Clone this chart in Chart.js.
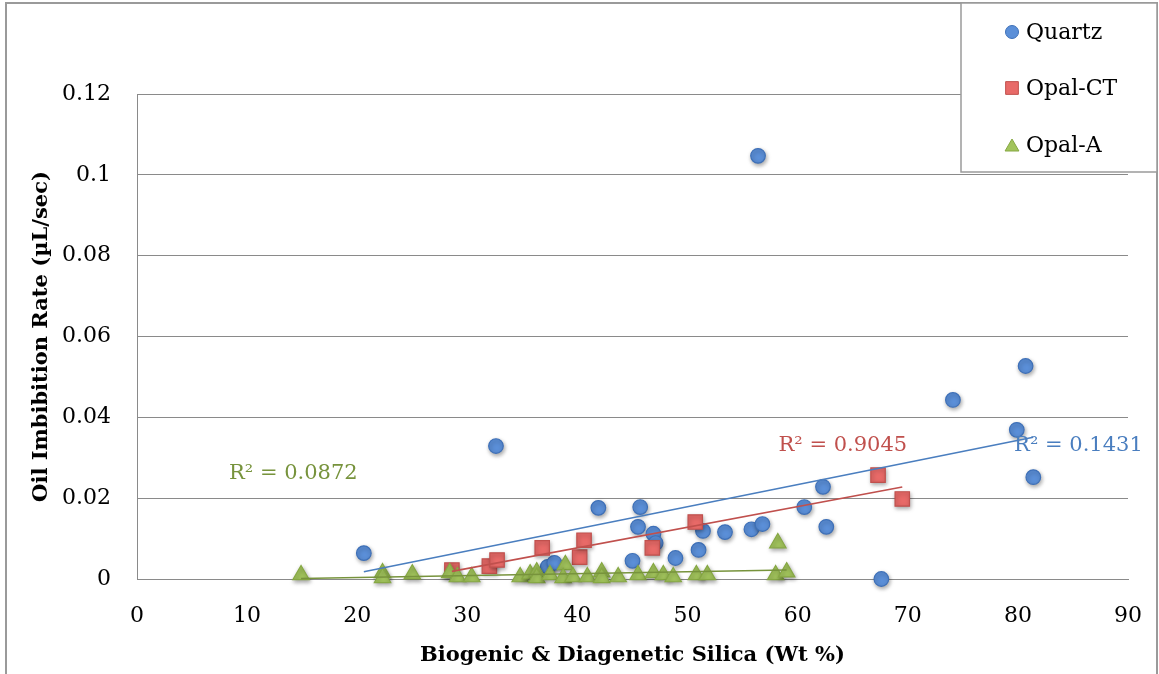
<!DOCTYPE html>
<html>
<head>
<meta charset="utf-8">
<script src="https://cdn.jsdelivr.net/npm/chart.js@4.4.1/dist/chart.umd.min.js"></script>
<style>
  html, body { margin: 0; padding: 0; background: #fff; }
</style>
</head>
<body>
<canvas id="chart" width="1159" height="674"></canvas>
<script>
/* ========= DATA ========= */
const quartzX = [20.6, 32.6, 37.3, 37.9, 41.9, 45.0, 45.5, 45.7, 46.9, 47.1, 48.9, 51.0, 51.4, 53.4, 55.8, 56.8, 56.4, 60.6, 62.3, 62.6, 67.6, 74.1, 79.9, 80.7, 81.4];
const quartzY = [0.0064, 0.0329, 0.0030, 0.0040, 0.0176, 0.0045, 0.0129, 0.0178, 0.0112, 0.0089, 0.0052, 0.0072, 0.0119, 0.0116, 0.0123, 0.0136, 0.1047, 0.0178, 0.0228, 0.0129, 0.0000, 0.0443, 0.0369, 0.0527, 0.0252];

const opalCtX = [28.6, 32.0, 32.7, 36.8, 40.2, 40.6, 46.8, 50.7, 67.3, 69.5];
const opalCtY = [0.0022, 0.0032, 0.0047, 0.0077, 0.0054, 0.0096, 0.0077, 0.0141, 0.0257, 0.0198];

const opalAX = [14.9, 22.3, 22.3, 25.0, 28.4, 29.1, 30.4, 34.8, 35.7, 36.3, 36.3, 37.5, 38.9, 38.7, 39.6, 40.9, 42.2, 42.2, 43.7, 45.5, 46.9, 47.8, 48.7, 50.8, 51.8, 58.2, 58.0, 59.0];
const opalAY = [0.0010, 0.0015, 0.0003, 0.0012, 0.0015, 0.0005, 0.0005, 0.0005, 0.0012, 0.0017, 0.0003, 0.0010, 0.0035, 0.0003, 0.0005, 0.0005, 0.0017, 0.0003, 0.0005, 0.0010, 0.0015, 0.0010, 0.0005, 0.0010, 0.0010, 0.0089, 0.0010, 0.0017];

const seriesNames = ["Quartz", "Opal-CT", "Opal-A"];
const r2Labels = ["R\u00B2 = 0.1431", "R\u00B2 = 0.9045", "R\u00B2 = 0.0872"];
const r2AtX = [85.5, 64.1, 14.2];
const r2AtY = [0.0329, 0.0329, 0.0260];

const xTicks = [0, 10, 20, 30, 40, 50, 60, 70, 80, 90];
const yTicks = [0, 0.02, 0.04, 0.06, 0.08, 0.1, 0.12];

/* ========= STYLE ========= */
const FONT = "'DejaVu Serif', serif";
const colors = {
  quartz: { fill: "#5b8fd8", line: "#3e70b8", trend: "#4a7ebf" },
  opalCt: { fill: "#e86a68", line: "#c0504d", trend: "#c0504d" },
  opalA:  { fill: "#a2c45c", line: "#86a843", trend: "#77933c" }
};

const pts = (xs, ys) => xs.map((x, i) => ({ x, y: ys[i] }));

// least squares line over the series' x range
function trend(xs, ys) {
  const n = xs.length;
  const mx = xs.reduce((a, b) => a + b, 0) / n;
  const my = ys.reduce((a, b) => a + b, 0) / n;
  let sxy = 0, sxx = 0;
  xs.forEach((x, i) => { sxy += (x - mx) * (ys[i] - my); sxx += (x - mx) ** 2; });
  const b = sxy / sxx, a = my - b * mx;
  const lo = Math.min(...xs), hi = Math.max(...xs);
  return [{ x: lo, y: a + b * lo }, { x: hi, y: a + b * hi }];
}

function markerSet(label, data, c, style, radius, order) {
  return {
    label, data, order,
    pointStyle: style,
    pointRadius: radius,
    pointHoverRadius: radius,
    pointBackgroundColor: c.fill,
    pointBorderColor: c.line,
    pointBorderWidth: 1.2,
    showLine: false,
    clip: false,
    shadow: true
  };
}

function trendSet(data, c) {
  return {
    data, order: 0,
    showLine: true,
    borderColor: c.trend,
    borderWidth: 1.6,
    pointRadius: 0,
    fill: false,
    clip: false
  };
}

/* ========= PLUGINS ========= */
const markerShadow = {
  id: "markerShadow",
  beforeDatasetDraw(chart, args) {
    const ds = chart.data.datasets[args.index];
    if (!ds.shadow) return;
    const ctx = chart.ctx;
    ctx.save();
    ctx.shadowColor = "rgba(0,0,0,0.35)";
    ctx.shadowBlur = 4;
    ctx.shadowOffsetX = 1;
    ctx.shadowOffsetY = 2;
  },
  afterDatasetDraw(chart, args) {
    if (chart.data.datasets[args.index].shadow) chart.ctx.restore();
  }
};

const r2Text = {
  id: "r2Text",
  afterDatasetsDraw(chart) {
    const { ctx, scales: { x, y } } = chart;
    const cols = [colors.quartz.trend, colors.opalCt.trend, colors.opalA.trend];
    ctx.save();
    ctx.font = "21px " + FONT;
    ctx.textAlign = "center";
    ctx.textBaseline = "middle";
    r2Labels.forEach((t, i) => {
      ctx.fillStyle = cols[i];
      ctx.fillText(t, x.getPixelForValue(r2AtX[i]), y.getPixelForValue(r2AtY[i]));
    });
    ctx.restore();
  }
};

const frameAndLegend = {
  id: "frameAndLegend",
  afterDraw(chart) {
    const ctx = chart.ctx;
    ctx.save();
    // outer chart frame
    ctx.strokeStyle = "#9a9a9a";
    ctx.lineWidth = 2;
    ctx.strokeRect(6, 3, 1151, 720);

    // legend box
    ctx.fillStyle = "#fff";
    ctx.fillRect(961, 3, 196, 169);
    ctx.lineWidth = 1.5;
    ctx.strokeStyle = "#9a9a9a";
    ctx.strokeRect(961, 3, 196, 169);

    const rows = [32, 88, 145];
    const marks = [
      { style: "circle", radius: 6.5, c: colors.quartz },
      { style: "rect", radius: 9, c: colors.opalCt },
      { style: "triangle", radius: 8, c: colors.opalA }
    ];
    ctx.font = "22px " + FONT;
    ctx.textBaseline = "middle";
    ctx.textAlign = "left";
    rows.forEach((ry, i) => {
      const m = marks[i];
      ctx.fillStyle = m.c.fill;
      ctx.strokeStyle = m.c.line;
      ctx.lineWidth = 1;
      Chart.helpers.drawPoint(ctx, { pointStyle: m.style, radius: m.radius, borderWidth: 1, rotation: 0 }, 1012, m.style === "triangle" ? ry + 2 : ry);
      ctx.fillStyle = "#000";
      ctx.fillText(seriesNames[i], 1026, ry + 1);
    });
    ctx.restore();
  }
};

/* ========= CHART ========= */
new Chart(document.getElementById("chart"), {
  type: "scatter",
  data: {
    datasets: [
      markerSet(seriesNames[0], pts(quartzX, quartzY), colors.quartz, "circle", 7.3, 3),
      markerSet(seriesNames[1], pts(opalCtX, opalCtY), colors.opalCt, "rect", 10.2, 2),
      markerSet(seriesNames[2], pts(opalAX, opalAY), colors.opalA, "triangle", 9.5, 1),
      trendSet(trend(quartzX, quartzY), colors.quartz),
      trendSet(trend(opalCtX, opalCtY), colors.opalCt),
      trendSet(trend(opalAX, opalAY), colors.opalA)
    ]
  },
  options: {
    responsive: false,
    animation: false,
    layout: { padding: { left: 0, top: 94, right: 31, bottom: 0 } },
    plugins: {
      legend: { display: false },
      tooltip: { enabled: false }
    },
    scales: {
      x: {
        type: "linear",
        min: xTicks[0],
        max: xTicks[xTicks.length - 1],
        afterBuildTicks: s => { s.ticks = xTicks.map(v => ({ value: v })); },
        afterFit: s => { s.height = 95; s.paddingLeft = 0; s.paddingRight = 0; },
        grid: { display: false, drawTicks: false },
        border: { display: true, color: "#8a8a8a", width: 1 },
        ticks: { color: "#000", font: { family: FONT, size: 22 }, padding: 24 },
        title: {
          display: true,
          text: "Biogenic & Diagenetic Silica (Wt %)",
          color: "#000",
          font: { family: FONT, size: 21, weight: "bold" },
          padding: { top: 0, bottom: 6 }
        }
      },
      y: {
        type: "linear",
        min: yTicks[0],
        max: yTicks[yTicks.length - 1],
        afterBuildTicks: s => { s.ticks = yTicks.map(v => ({ value: v })); },
        afterFit: s => { s.width = 137; s.paddingTop = 0; s.paddingBottom = 0; },
        grid: { color: "#8a8a8a", lineWidth: 1, drawTicks: false },
        border: { display: true, color: "#8a8a8a", width: 1 },
        ticks: {
          color: "#000",
          font: { family: FONT, size: 22 },
          padding: 26,
          callback: v => String(+v.toFixed(2))
        },
        title: {
          display: true,
          text: "Oil Imbibition Rate (\u00B5L/sec)",
          color: "#000",
          font: { family: FONT, size: 21, weight: "bold" },
          padding: { top: 29, bottom: 0 }
        }
      }
    }
  },
  plugins: [markerShadow, r2Text, frameAndLegend]
});
</script>
</body>
</html>
